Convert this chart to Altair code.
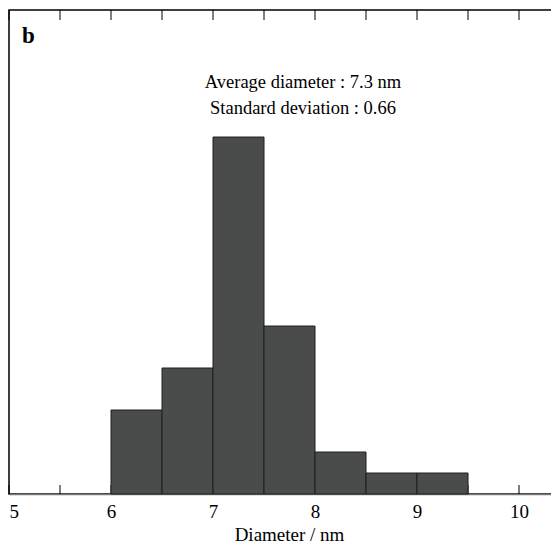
import altair as alt
import pandas as pd

bin_start = [6.0, 6.5, 7.0, 7.5, 8.0, 8.5, 9.0]
bin_end = [6.5, 7.0, 7.5, 8.0, 8.5, 9.0, 9.5]
counts = [4, 6, 17, 8, 2, 1, 1]
tick_positions = [5.0, 5.5, 6.0, 6.5, 7.0, 7.5, 8.0, 8.5, 9.0, 9.5, 10.0]
label_values = [5, 6, 7, 8, 9, 10]
annotation_lines = ["Average diameter : 7.3 nm", "Standard deviation : 0.66"]
panel_label = "b"

W, H = 560, 484
FONT = "Liberation Serif"

bars_df = pd.DataFrame({"start": bin_start, "end": bin_end, "count": counts})
ticks_df = pd.DataFrame({"pos": tick_positions})

xscale = alt.Scale(domain=[5, 10.49], nice=False, zero=False)
yscale = alt.Scale(domain=[0, 23.05], nice=False, zero=True)

bars = alt.Chart(bars_df).mark_rect(
    fill="#4a4c4b", stroke="#1e1e1e", strokeWidth=1
).encode(
    x=alt.X("start:Q", scale=xscale,
            axis=alt.Axis(values=label_values, tickSize=0, grid=False,
                          domainColor="#777777", domainWidth=1.5,
                          labelFont=FONT, labelFontSize=19, labelColor="black",
                          labelPadding=8, labelFlush=True, format="d",
                          title="Diameter / nm", titleFont=FONT,
                          titleFontSize=19, titleFontWeight="normal",
                          titleColor="black", titlePadding=4)),
    x2="end:Q",
    y=alt.Y("count:Q", scale=yscale, axis=None),
    y2=alt.datum(0),
)

top_ticks = alt.Chart(ticks_df).mark_rule(color="black", strokeWidth=1).encode(
    x=alt.X("pos:Q", scale=xscale),
    y=alt.value(0),
    y2=alt.value(10),
)

bottom_ticks = alt.Chart(ticks_df).mark_rule(color="black", strokeWidth=1).encode(
    x=alt.X("pos:Q", scale=xscale),
    y=alt.value(H),
    y2=alt.value(H - 9),
)

ann_df = pd.DataFrame({"t": annotation_lines, "yy": [78, 104]})
ann = alt.Chart(ann_df).mark_text(
    font=FONT, fontSize=18.5, align="center", baseline="alphabetic", color="black"
).encode(
    text="t:N",
    x=alt.value(294),
    y=alt.Y("yy:Q", scale=None),
)

lbl = alt.Chart(pd.DataFrame({"t": [panel_label]})).mark_text(
    font=FONT, fontSize=23, fontWeight="bold", align="left",
    baseline="alphabetic", color="black"
).encode(
    text="t:N",
    x=alt.value(13),
    y=alt.value(33),
)

chart = alt.layer(bottom_ticks, bars, top_ticks, ann, lbl).properties(
    width=W, height=H,
    autosize=alt.AutoSizeParams(type="none"),
    padding={"left": 1, "top": 2, "right": -18, "bottom": 50},
    background="white",
).configure_view(
    stroke="black", strokeWidth=1.5
)

chart.save("out.html", embed_options={"renderer": "svg", "actions": False})
